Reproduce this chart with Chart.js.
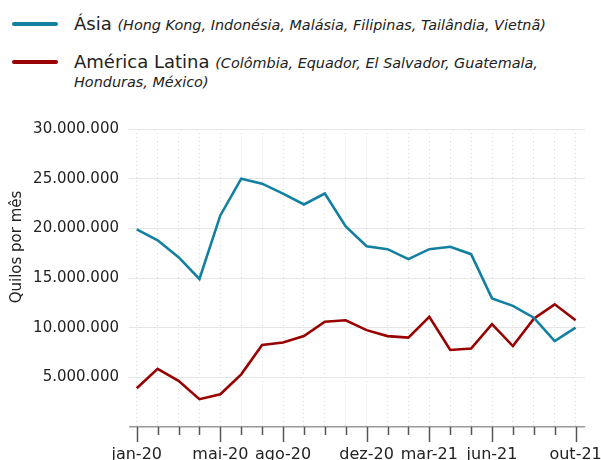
<!DOCTYPE html>
<html>
<head>
<meta charset="utf-8">
<script src="https://cdn.jsdelivr.net/npm/chart.js@4.4.1/dist/chart.umd.min.js"></script>
<style>
  body { margin: 0; background: #fff; width: 601px; height: 460px; overflow: hidden;
         font-family: "DejaVu Sans", sans-serif; color: #222; }
  .key { position: absolute; left: 12px; width: 46px; height: 4px; border-radius: 2px; }
  .lbl { position: absolute; left: 74px; font-size: 18px; line-height: 19px; white-space: nowrap; }
  .lbl i { font-size: 14.4px; }
  #wrap { position: absolute; left: 0; top: 100px; width: 601px; height: 360px; }
</style>
</head>
<body>
<div class="key" style="top:22px;background:#1380A1"></div>
<div class="lbl" style="top:14px">Ásia <i>(Hong Kong, Indonésia, Malásia, Filipinas, Tailândia, Vietnã)</i></div>
<div class="key" style="top:60px;background:#990000"></div>
<div class="lbl" style="top:52px">América Latina <i>(Colômbia, Equador, El Salvador, Guatemala,</i></div>
<div class="lbl" style="top:73px;line-height:15px"><i>Honduras, México)</i></div>
<div id="wrap"><canvas id="chart"></canvas></div>

<script>
// meses jan-20 .. out-21
const months = ['jan-20','fev-20','mar-20','abr-20','mai-20','jun-20','jul-20','ago-20','set-20','out-20','nov-20','dez-20',
                'jan-21','fev-21','mar-21','abr-21','mai-21','jun-21','jul-21','ago-21','set-21','out-21'];
const tickLabels = ['jan-20','','','','mai-20','','','ago-20','','','','dez-20',
                    '','','mar-21','','','jun-21','','','','out-21'];

// quilos por mês
const asia = [19900000, 18800000, 17100000, 14900000, 21300000, 25000000, 24500000, 23500000, 22400000, 23500000, 20200000,
              18200000, 17900000, 16900000, 17900000, 18150000, 17400000, 12950000, 12200000, 11000000, 8650000, 10000000];
const latam = [3900000, 5850000, 4650000, 2800000, 3300000, 5300000, 8250000, 8500000, 9150000, 10600000, 10750000,
               9750000, 9150000, 9000000, 11100000, 7750000, 7900000, 10350000, 8150000, 10900000, 12350000, 10750000];

const fmt = v => String(v).replace(/\B(?=(\d{3})+(?!\d))/g, '.');

// tracinhos do eixo x (maiores nos meses com rótulo) e título do eixo y
const extras = {
    id: 'extras',
    afterDraw(chart) {
        const ctx = chart.ctx;
        const x = chart.scales.x;
        const bottom = chart.chartArea.bottom;
        ctx.save();
        ctx.strokeStyle = '#555';
        ctx.lineWidth = 1.5;
        months.forEach((m, i) => {
            const px = Math.round(x.getPixelForValue(i)) + 0.5;
            ctx.beginPath();
            ctx.moveTo(px, bottom);
            ctx.lineTo(px, bottom + (tickLabels[i] ? 15 : 8));
            ctx.stroke();
        });
        ctx.translate(17, 147);
        ctx.rotate(-Math.PI / 2);
        ctx.fillStyle = '#222';
        ctx.font = '15px "DejaVu Sans"';
        ctx.textAlign = 'center';
        ctx.textBaseline = 'middle';
        ctx.fillText('Quilos por mês', 0, 0);
        ctx.restore();
    }
};

const ctx = document.getElementById('chart').getContext('2d');
new Chart(ctx, {
    type: 'line',
    data: {
        datasets: [{
            label: 'Ásia',
            data: asia.map((v, i) => ({ x: i, y: v })),
            borderColor: '#1380A1',
            borderWidth: 2.6,
            pointRadius: 0,
            tension: 0
        }, {
            label: 'América Latina',
            data: latam.map((v, i) => ({ x: i, y: v })),
            borderColor: '#990000',
            borderWidth: 2.6,
            pointRadius: 0,
            tension: 0
        }]
    },
    options: {
        responsive: true,
        maintainAspectRatio: false,
        animation: false,
        layout: { padding: { left: 0, right: 16, top: 29, bottom: 0 } },
        plugins: {
            legend: { display: false },
            tooltip: { enabled: false }
        },
        scales: {
            x: {
                type: 'linear',
                min: -0.37,
                max: 21.45,
                afterBuildTicks: s => { s.ticks = months.map((m, i) => ({ value: i })); },
                afterFit: s => { s.height = 33; s.paddingLeft = 0; s.paddingRight = 0; },
                ticks: {
                    autoSkip: false,
                    maxRotation: 0,
                    padding: 18,
                    color: '#222',
                    font: { family: 'DejaVu Sans', size: 16 },
                    callback: v => tickLabels[v] || ''
                },
                grid: { color: '#dadada', lineWidth: 1, drawTicks: false },
                border: { display: false, dash: [1, 3] }
            },
            y: {
                min: 0,
                max: 30000000,
                afterFit: s => { s.width = 129; s.paddingTop = 0; s.paddingBottom = 0; },
                ticks: {
                    stepSize: 5000000,
                    padding: 10,
                    color: '#222',
                    font: { family: 'DejaVu Sans', size: 15 },
                    callback: v => v === 0 ? '' : fmt(v)
                },
                grid: {
                    drawTicks: false,
                    color: c => c.tick.value === 0 ? '#999' : '#e6e6e6',
                    lineWidth: c => c.tick.value === 0 ? 1.5 : 1
                },
                border: { display: false }
            }
        }
    },
    plugins: [extras]
});
</script>
</body>
</html>
